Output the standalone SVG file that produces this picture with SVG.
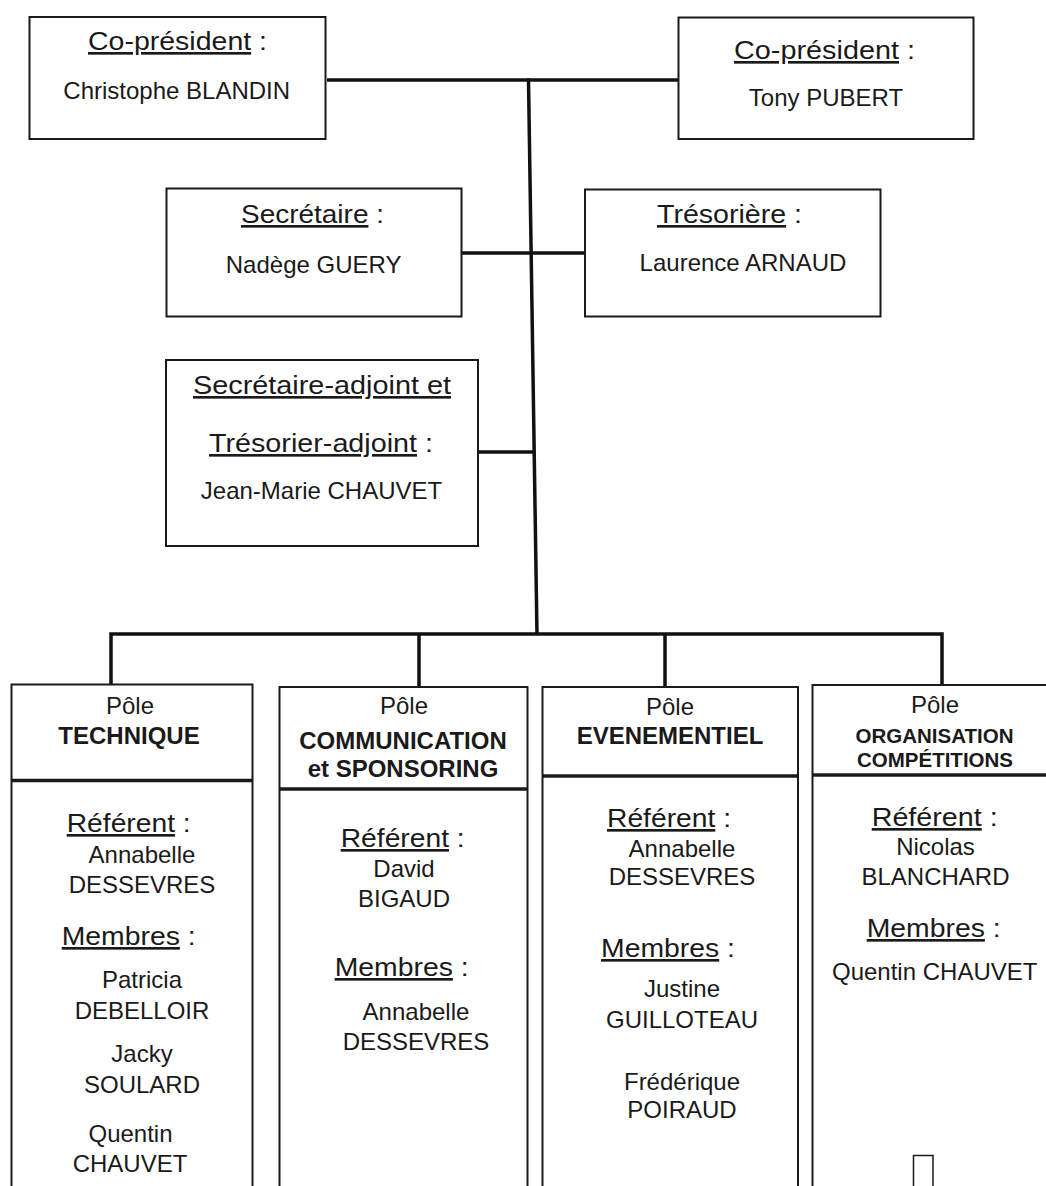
<svg xmlns="http://www.w3.org/2000/svg" width="1046" height="1186" viewBox="0 0 1046 1186">
<style>
text{font-family:"Liberation Sans",Arial,sans-serif;fill:#1a1a1a}
.h{font-size:26.5px}
.u{text-decoration:underline}
.n{font-size:24px;text-anchor:middle}
.b{font-size:24px;font-weight:bold;text-anchor:middle}
.s{font-size:19.5px;font-weight:bold;text-anchor:middle}
.box{fill:#fff;stroke:#1a1a1a;stroke-width:2}
.div{stroke:#1a1a1a;stroke-width:3.5}
.c{stroke:#111;stroke-width:3.5;fill:none}
</style>
<rect width="1046" height="1186" fill="#fff"/>
<g id="connectors">
<line class="c" x1="527" y1="80" x2="678" y2="80"/>
<line class="c" x1="327" y1="80" x2="530" y2="80"/>
<line class="c" x1="528.5" y1="80" x2="537" y2="635"/>
<line class="c" x1="461.5" y1="253" x2="585" y2="253"/>
<line class="c" x1="478" y1="452" x2="534.5" y2="452"/>
<polyline class="c" points="111,684.5 111,634 942,634 942,685"/>
<line class="c" x1="419" y1="634" x2="419" y2="687"/>
<line class="c" x1="665" y1="634" x2="665" y2="687"/>
</g>
<g id="copresident1">
<rect class="box" x="29.5" y="17" width="296" height="122"/>
<text class="h" x="88" y="50" textLength="179" lengthAdjust="spacingAndGlyphs"><tspan class="u">Co-président</tspan> :</text>
<text class="n" x="176.7" y="99">Christophe BLANDIN</text>
</g>
<g id="copresident2">
<rect class="box" x="678.5" y="17.5" width="295" height="121.5"/>
<text class="h" x="734" y="59" textLength="181" lengthAdjust="spacingAndGlyphs"><tspan class="u">Co-président</tspan> :</text>
<text class="n" x="826" y="106">Tony PUBERT</text>
</g>
<g id="secretaire">
<rect class="box" x="166.5" y="188.5" width="295" height="128"/>
<text class="h" x="241" y="223" textLength="143" lengthAdjust="spacingAndGlyphs"><tspan class="u">Secrétaire</tspan> :</text>
<text class="n" x="313.6" y="273">Nadège GUERY</text>
</g>
<g id="tresoriere">
<rect class="box" x="585" y="189.5" width="295.5" height="127"/>
<text class="h" x="657" y="223" textLength="145" lengthAdjust="spacingAndGlyphs"><tspan class="u">Trésorière</tspan> :</text>
<text class="n" x="743" y="271">Laurence ARNAUD</text>
</g>
<g id="adjoint">
<rect class="box" x="166" y="360" width="312" height="186"/>
<text class="h" x="193" y="394" textLength="258" lengthAdjust="spacingAndGlyphs"><tspan class="u">Secrétaire-adjoint et</tspan></text>
<text class="h" x="209" y="452" textLength="224" lengthAdjust="spacingAndGlyphs"><tspan class="u">Trésorier-adjoint</tspan> :</text>
<text class="n" x="321.5" y="499">Jean-Marie CHAUVET</text>
</g>
<g id="pole-technique">
<rect class="box" x="11.5" y="684.5" width="241" height="520"/>
<line class="div" x1="11.5" y1="780.5" x2="252.5" y2="780.5"/>
<text class="n" x="130" y="714">Pôle</text>
<text class="b" x="129" y="744">TECHNIQUE</text>
<text class="h" x="66.7" y="832" textLength="124" lengthAdjust="spacingAndGlyphs"><tspan class="u">Référent</tspan> :</text>
<text class="n" x="142" y="863">Annabelle</text>
<text class="n" x="142" y="893">DESSEVRES</text>
<text class="h" x="61.7" y="945" textLength="134" lengthAdjust="spacingAndGlyphs"><tspan class="u">Membres</tspan> :</text>
<text class="n" x="142" y="988">Patricia</text>
<text class="n" x="142" y="1019">DEBELLOIR</text>
<text class="n" x="142" y="1062">Jacky</text>
<text class="n" x="142" y="1093">SOULARD</text>
<text class="n" x="130.5" y="1142">Quentin</text>
<text class="n" x="130" y="1172">CHAUVET</text>
</g>
<g id="pole-communication">
<rect class="box" x="279.5" y="687" width="248" height="520"/>
<line class="div" x1="279.5" y1="789" x2="527.5" y2="789"/>
<text class="n" x="404" y="714">Pôle</text>
<text class="b" x="403" y="749">COMMUNICATION</text>
<text class="b" x="403" y="777">et SPONSORING</text>
<text class="h" x="340.7" y="847" textLength="124" lengthAdjust="spacingAndGlyphs"><tspan class="u">Référent</tspan> :</text>
<text class="n" x="404" y="877">David</text>
<text class="n" x="404" y="907">BIGAUD</text>
<text class="h" x="334.7" y="976" textLength="134" lengthAdjust="spacingAndGlyphs"><tspan class="u">Membres</tspan> :</text>
<text class="n" x="416" y="1020">Annabelle</text>
<text class="n" x="416" y="1050">DESSEVRES</text>
</g>
<g id="pole-evenementiel">
<rect class="box" x="542.5" y="687" width="255.5" height="520"/>
<line class="div" x1="542.5" y1="776" x2="798" y2="776"/>
<text class="n" x="670" y="715">Pôle</text>
<text class="b" x="670" y="744">EVENEMENTIEL</text>
<text class="h" x="607" y="827" textLength="124" lengthAdjust="spacingAndGlyphs"><tspan class="u">Référent</tspan> :</text>
<text class="n" x="682" y="857">Annabelle</text>
<text class="n" x="682" y="885">DESSEVRES</text>
<text class="h" x="601" y="957" textLength="134" lengthAdjust="spacingAndGlyphs"><tspan class="u">Membres</tspan> :</text>
<text class="n" x="682" y="997">Justine</text>
<text class="n" x="682" y="1028">GUILLOTEAU</text>
<text class="n" x="682" y="1090">Frédérique</text>
<text class="n" x="682" y="1118">POIRAUD</text>
</g>
<g id="pole-organisation">
<rect class="box" x="812.5" y="685" width="250" height="520"/>
<line class="div" x1="812.5" y1="775" x2="1046" y2="775"/>
<text class="n" x="935" y="713">Pôle</text>
<text class="s" x="934.5" y="743" textLength="158" lengthAdjust="spacingAndGlyphs">ORGANISATION</text>
<text class="s" x="935" y="767" textLength="156" lengthAdjust="spacingAndGlyphs">COMPÉTITIONS</text>
<text class="h" x="871.7" y="826" textLength="126" lengthAdjust="spacingAndGlyphs"><tspan class="u">Référent</tspan> :</text>
<text class="n" x="935.5" y="855">Nicolas</text>
<text class="n" x="935.5" y="885">BLANCHARD</text>
<text class="h" x="866.7" y="937" textLength="134" lengthAdjust="spacingAndGlyphs"><tspan class="u">Membres</tspan> :</text>
<text class="n" x="934.7" y="980">Quentin CHAUVET</text>
<rect x="913.5" y="1155.5" width="19.5" height="40" fill="none" stroke="#1a1a1a" stroke-width="1.5"/>
</g>
</svg>
